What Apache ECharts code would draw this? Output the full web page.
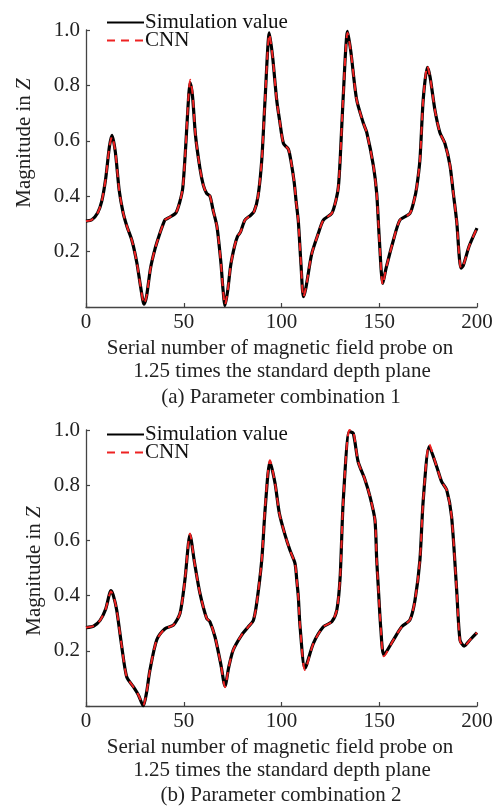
<!DOCTYPE html>
<html>
<head>
<meta charset="utf-8">
<script src="https://cdn.jsdelivr.net/npm/echarts@6/dist/echarts.min.js"></script>
<style>
  html, body { margin: 0; padding: 0; background: #fff; }
  #chart { width: 498px; height: 807px; }
</style>
</head>
<body>
<div id="chart"></div>
<script>
// (a) 参数组合1：探针序号与对应幅值
const probeA = [0, 3, 6, 8, 10, 12, 13.3, 15, 17, 19, 21, 23.5, 26, 28, 29.7, 31, 33, 35.3, 37.5, 39.5,
  40.5, 43, 46, 48, 49.5, 51, 52.5, 53.3, 54.5, 56, 58.3, 60, 61.7, 63.4, 65, 67, 69, 70, 71.1, 72.5,
  74, 76, 77.5, 79, 81.3, 84, 86, 88, 89.9, 91.6, 93.8, 95.5, 97.5, 99, 101, 103.5, 105, 106.5, 107.5, 108.6,
  110, 111.2, 112.5, 115.4, 118.8, 121.4, 125.7, 128, 129.1, 130, 131.5, 133.8, 135.5, 138.4, 141.8, 143.6, 147, 148.7, 150, 151.8,
  153.5, 157.2, 160.6, 165.7, 168, 169.2, 170.8, 172.5, 174.6, 176, 178.5, 181, 183.6, 186.2, 187.9, 189.6, 191.8, 193, 196, 200];
const simA = [0.31, 0.315, 0.34, 0.38, 0.46, 0.58, 0.62, 0.56, 0.42, 0.34, 0.29, 0.24, 0.16, 0.07, 0.01, 0.04, 0.14, 0.21, 0.26, 0.30,
  0.315, 0.325, 0.34, 0.38, 0.43, 0.58, 0.76, 0.81, 0.76, 0.62, 0.50, 0.44, 0.41, 0.40, 0.35, 0.29, 0.16, 0.07, 0.005, 0.06,
  0.15, 0.22, 0.255, 0.27, 0.314, 0.33, 0.345, 0.40, 0.53, 0.75, 0.99, 0.90, 0.75, 0.675, 0.59, 0.57, 0.52, 0.45, 0.38, 0.31,
  0.15, 0.037, 0.07, 0.19, 0.265, 0.314, 0.338, 0.39, 0.434, 0.53, 0.75, 0.995, 0.92, 0.75, 0.665, 0.63, 0.51, 0.41, 0.25, 0.085,
  0.14, 0.24, 0.314, 0.338, 0.39, 0.434, 0.53, 0.75, 0.865, 0.83, 0.71, 0.63, 0.59, 0.51, 0.41, 0.31, 0.14, 0.15, 0.22, 0.285];
const cnnA = [0.31, 0.315, 0.34, 0.38, 0.46, 0.58, 0.615, 0.56, 0.42, 0.34, 0.29, 0.24, 0.16, 0.07, 0.012, 0.04, 0.14, 0.21, 0.26, 0.30,
  0.315, 0.325, 0.34, 0.38, 0.43, 0.58, 0.77, 0.82, 0.77, 0.62, 0.50, 0.44, 0.41, 0.40, 0.35, 0.29, 0.16, 0.07, 0.008, 0.06,
  0.15, 0.22, 0.255, 0.27, 0.314, 0.33, 0.345, 0.40, 0.53, 0.75, 0.985, 0.90, 0.75, 0.675, 0.59, 0.57, 0.52, 0.45, 0.38, 0.31,
  0.15, 0.035, 0.07, 0.19, 0.265, 0.314, 0.338, 0.39, 0.434, 0.53, 0.75, 0.99, 0.92, 0.75, 0.665, 0.63, 0.51, 0.41, 0.25, 0.08,
  0.14, 0.24, 0.314, 0.338, 0.39, 0.434, 0.53, 0.75, 0.87, 0.83, 0.71, 0.63, 0.59, 0.51, 0.41, 0.31, 0.14, 0.15, 0.22, 0.285];

// (b) 参数组合2
const probeB = [0, 4, 7.2, 10, 12.8, 14, 15.7, 18.3, 20.8, 24.2, 26.8, 29.3, 31, 32.7, 36.2, 40.4, 44.7, 48.1, 50.6, 53.2,
  55.5, 58.3, 61.7, 63.4, 66, 69, 71.1, 73, 75.3, 79.6, 83, 85.6, 87.3, 89.9, 91.6, 94.1, 96.7, 98.9, 101.8, 104.3,
  106.9, 107.8, 108.6, 109.5, 112, 116.3, 121.4, 125.7, 128.3, 130, 131.6, 134.7, 136.7, 139.2, 142.7, 145.3, 147.8, 148.7, 149.5, 150.8,
  152.4, 157.2, 161.5, 165.7, 168.3, 170.8, 172.5, 175.6, 179.4, 181.9, 184.5, 187, 189.6, 191.3, 193.4, 196.5, 200];
const simB = [0.284, 0.29, 0.31, 0.35, 0.418, 0.40, 0.348, 0.215, 0.106, 0.07, 0.04, 0.0, 0.05, 0.13, 0.24, 0.28, 0.293, 0.336, 0.457, 0.62,
  0.52, 0.408, 0.318, 0.305, 0.25, 0.15, 0.072, 0.14, 0.203, 0.257, 0.287, 0.31, 0.372, 0.529, 0.71, 0.885, 0.807, 0.698, 0.62, 0.565,
  0.517, 0.457, 0.396, 0.287, 0.137, 0.227, 0.287, 0.305, 0.348, 0.468, 0.746, 0.994, 0.988, 0.885, 0.82, 0.758, 0.674, 0.529, 0.432, 0.28,
  0.185, 0.239, 0.287, 0.312, 0.384, 0.529, 0.746, 0.94, 0.867, 0.813, 0.783, 0.686, 0.42, 0.239, 0.217, 0.24, 0.266];
const cnnB = [0.284, 0.29, 0.31, 0.35, 0.415, 0.40, 0.348, 0.215, 0.106, 0.07, 0.04, 0.003, 0.05, 0.13, 0.24, 0.28, 0.293, 0.336, 0.457, 0.625,
  0.52, 0.408, 0.318, 0.305, 0.25, 0.15, 0.068, 0.14, 0.203, 0.257, 0.287, 0.31, 0.372, 0.529, 0.72, 0.89, 0.807, 0.698, 0.62, 0.565,
  0.517, 0.457, 0.396, 0.287, 0.13, 0.227, 0.287, 0.305, 0.348, 0.468, 0.746, 1.0, 0.995, 0.885, 0.82, 0.758, 0.674, 0.529, 0.432, 0.28,
  0.18, 0.239, 0.287, 0.312, 0.384, 0.529, 0.746, 0.948, 0.867, 0.813, 0.783, 0.686, 0.42, 0.235, 0.217, 0.24, 0.266];

const xTicks = [0, 50, 100, 150, 200];
const yTicks = [0.2, 0.4, 0.6, 0.8, 1.0];

const FONT = 'Liberation Serif';
const TXT = '#222';
const AX = '#444';
const CAP_FONT = '21px "' + FONT + '"';

const pairs = (xs, ys) => xs.map((x, i) => [x, ys[i]]);

const myChart = echarts.init(document.getElementById('chart'));

function xAxisCfg(gi) {
  return {
    type: 'value', gridIndex: gi, min: 0, max: 200, interval: 50,
    axisLine: { lineStyle: { color: AX, width: 1.3 } },
    axisTick: { inside: true, length: 4, lineStyle: { color: AX, width: 1.2 } },
    axisLabel: { color: TXT, fontFamily: FONT, fontSize: 21, margin: 5,
      formatter: v => xTicks.includes(v) ? String(v) : '' },
    splitLine: { show: false }
  };
}
function yAxisCfg(gi) {
  return {
    type: 'value', gridIndex: gi, min: 0, max: 1, interval: 0.2,
    axisLine: { show: true, lineStyle: { color: AX, width: 1.3 } },
    axisTick: { inside: true, length: 4, lineStyle: { color: AX, width: 1.2 } },
    axisLabel: { color: TXT, fontFamily: FONT, fontSize: 21, margin: 6,
      formatter: v => yTicks.some(t => Math.abs(t - v) < 1e-6) ? v.toFixed(1) : '' },
    splitLine: { show: false }
  };
}
function legendCfg(top) {
  return {
    left: 101, top: top, orient: 'vertical', itemWidth: 37, itemHeight: 12, itemGap: -3,
    itemStyle: { opacity: 0 },
    textStyle: { color: '#111', fontFamily: FONT, fontSize: 21, padding: [0, 0, 0, -4] },
    data: ['Simulation value', 'CNN']
  };
}
function simSeries(gi, data) {
  return { name: 'Simulation value', type: 'line', xAxisIndex: gi, yAxisIndex: gi,
    data: data, smooth: 0.25, symbol: 'none', lineStyle: { color: '#000', width: 3.2 },
    itemStyle: { color: '#000' }, z: 2 };
}
function cnnSeries(gi, data) {
  return { name: 'CNN', type: 'line', xAxisIndex: gi, yAxisIndex: gi,
    data: data, smooth: 0.25, symbol: 'none', lineStyle: { color: '#ee2222', width: 2, type: [8, 6] },
    itemStyle: { color: '#ee2222' }, z: 3 };
}
function yName(x, y) {
  return {
    type: 'text', x: x, y: y, rotation: Math.PI / 2,
    style: {
      text: 'Magnitude in {i|Z}', fill: TXT, font: CAP_FONT,
      align: 'center', verticalAlign: 'middle',
      rich: { i: { fontStyle: 'italic', fontFamily: FONT, fontSize: 21, fill: TXT } }
    }
  };
}
function capText(x, y, t) {
  return { type: 'text', x: x, y: y,
    style: { text: t, font: CAP_FONT, fill: TXT, align: 'center', verticalAlign: 'middle' } };
}

const option = {
  animation: false,
  backgroundColor: '#fff',
  grid: [
    { left: 86, right: 21, top: 30, height: 277 },
    { left: 86, right: 21, top: 430, height: 276 }
  ],
  xAxis: [xAxisCfg(0), xAxisCfg(1)],
  yAxis: [yAxisCfg(0), yAxisCfg(1)],
  legend: [legendCfg(7), legendCfg(419)],
  series: [
    simSeries(0, pairs(probeA, simA)),
    cnnSeries(0, pairs(probeA, cnnA)),
    simSeries(1, pairs(probeB, simB)),
    cnnSeries(1, pairs(probeB, cnnB))
  ],
  graphic: [
    yName(24, 143),
    yName(34, 571),
    capText(280, 348, 'Serial number of magnetic field probe on'),
    capText(282, 371, '1.25 times the standard depth plane'),
    capText(281, 397, '(a) Parameter combination 1'),
    capText(280, 747, 'Serial number of magnetic field probe on'),
    capText(282, 770, '1.25 times the standard depth plane'),
    capText(281, 795, '(b) Parameter combination 2')
  ]
};
myChart.setOption(option);
</script>
</body>
</html>
